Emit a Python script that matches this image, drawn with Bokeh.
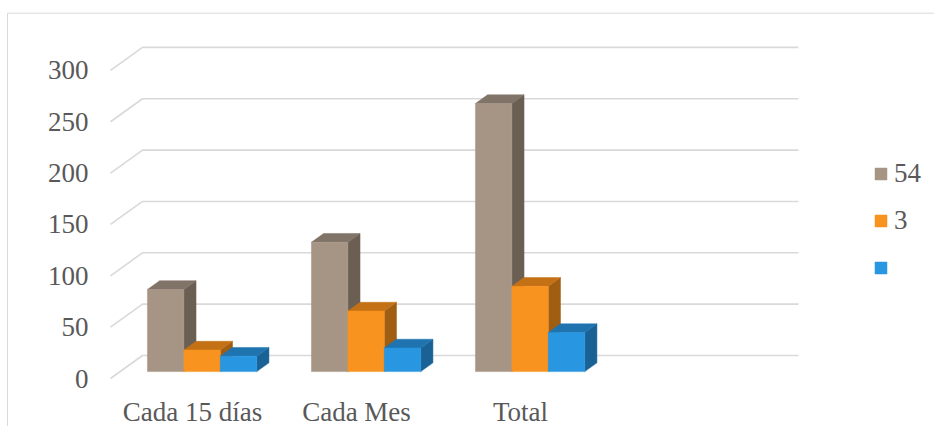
from bokeh.plotting import figure
from bokeh.models import Range1d, Legend, LegendItem
from bokeh.core.properties import value
from bokeh.embed import file_html
from bokeh.resources import INLINE

# ---------------- data ----------------
categories = ["Cada 15 días", "Cada Mes", "Total"]
series_names = ["54", "3", ""]
s54 = [80, 126, 261]
s3 = [21, 59, 83]
s_blank = [15, 23, 38]
y_ticks = [0, 50, 100, 150, 200, 250, 300]

series_values = [s54, s3, s_blank]
front_colors = ["#A69484", "#F7931E", "#2896E0"]
top_colors = ["#807368", "#C47116", "#1F74B0"]
side_colors = ["#6B5F54", "#A05E12", "#1A6196"]

# ---------------- geometry (styles / layout) ----------------
W, H = 934, 426
PX_X = 164.0        # pixels per category slot
PX_V = 1.027        # pixels per value unit
X0_PX, Y0_PX = 110.0, 378.0   # front-plane origin in pixels
N_SLOTS = 4
DX = 32.0 / PX_X    # depth offset in x data units
DY = 23.0 / PX_V    # depth offset in y data units
BW = 1 / 4.5        # bar width
GROUP_OFF = (1 - 3 * BW) / 2
Z0, Z1 = 0.30, 0.68
FONT = "Liberation Serif"
TXT = "#595959"
GRID = "#D9D9D9"

p = figure(width=W, height=H, output_backend="svg", toolbar_location=None,
           x_range=Range1d(-X0_PX / PX_X, (W - X0_PX) / PX_X),
           y_range=Range1d(-(H - Y0_PX) / PX_V, Y0_PX / PX_V),
           x_axis_type=None, y_axis_type=None, min_border=0)
p.grid.visible = False
p.outline_line_color = None
p.background_fill_color = "white"
p.border_fill_color = "white"

# chart border (top & left)
bx = (7 - X0_PX) / PX_X
by = (Y0_PX - 12.7) / PX_V
p.line([bx, bx, (W + 5 - X0_PX) / PX_X], [-(H - Y0_PX) / PX_V - 5, by, by],
       line_color=GRID, line_width=1)

# gridlines: front diagonal + back wall
gx, gy = [], []
for t in y_ticks:
    gx.append([0, DX, N_SLOTS + DX])
    gy.append([t, t + DY, t + DY])
p.multi_line(gx, gy, line_color=GRID, line_width=1.6)

# bars
front_renderers = []
d = Z1 - Z0
for j, vals in enumerate(series_values):
    L = [i + GROUP_OFF + j * BW + Z0 * DX for i in range(len(vals))]
    R = [l + BW for l in L]
    B = [Z0 * DY] * len(vals)
    T = [Z0 * DY + v for v in vals]
    side_x = [[r, r, r + d * DX, r + d * DX] for r in R]
    side_y = [[b, t, t + d * DY, b + d * DY] for b, t in zip(B, T)]
    top_x = [[l, r, r + d * DX, l + d * DX] for l, r in zip(L, R)]
    top_y = [[t, t, t + d * DY, t + d * DY] for t in T]
    p.patches(side_x, side_y, fill_color=side_colors[j], line_color=side_colors[j], line_width=0.5)
    p.patches(top_x, top_y, fill_color=top_colors[j], line_color=top_colors[j], line_width=0.5)
    fr = p.quad(left=L, right=R, bottom=B, top=T,
                fill_color=front_colors[j], line_color=front_colors[j], line_width=0.5)
    front_renderers.append(fr)

# y tick labels (front plane)
p.text(x=[(88 - X0_PX) / PX_X] * len(y_ticks), y=y_ticks, text=[str(t) for t in y_ticks],
       text_font=value(FONT), text_font_size="27px", text_color=TXT,
       text_align="right", text_baseline="middle")

# category labels
p.text(x=[i + 0.5 for i in range(len(categories))],
       y=[-(411 - Y0_PX) / PX_V] * len(categories), text=categories,
       text_font=value(FONT), text_font_size="27px", text_color=TXT,
       text_align="center", text_baseline="middle")

legend = Legend(items=[LegendItem(label=(n if n else " "), renderers=[r])
                       for n, r in zip(series_names, front_renderers)],
                location=(873, 143), orientation="vertical",
                glyph_width=15, glyph_height=15, label_standoff=6, spacing=16,
                label_height=31,
                padding=0, margin=0, border_line_color=None, background_fill_alpha=0,
                label_text_font=FONT, label_text_font_size="27px", label_text_color=TXT)
p.add_layout(legend)

open("out.html", "w").write(file_html(p, INLINE))
